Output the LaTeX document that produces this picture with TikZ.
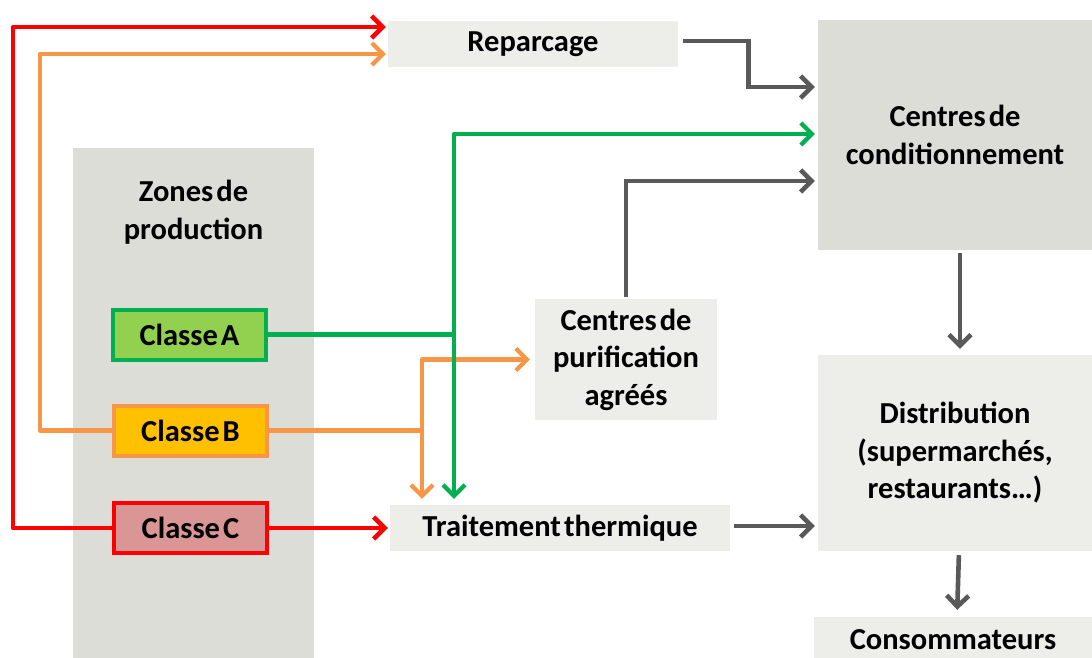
\documentclass[tikz,border=0pt]{standalone}
\usepackage{fontspec}
\setmainfont{Carlito}[WordSpace=0.45]
\usetikzlibrary{arrows.meta}
\definecolor{boxdark}{RGB}{221,221,215}
\definecolor{boxlight}{RGB}{237,237,233}
\definecolor{lgreen}{RGB}{0,176,80}
\definecolor{fgreen}{RGB}{146,208,80}
\definecolor{lorange}{RGB}{247,150,70}
\definecolor{forange}{RGB}{255,192,0}
\definecolor{lred}{RGB}{255,0,0}
\definecolor{fred}{RGB}{217,150,148}
\definecolor{lgray}{RGB}{89,89,89}
\begin{document}
\begin{tikzpicture}[x=1pt,y=-1pt,
  txt/.style={font=\fontsize{30.5}{37.5}\selectfont\bfseries, align=center, text=black},
  darkbox/.style={txt, fill=boxdark, inner sep=0pt},
  lightbox/.style={txt, fill=boxlight, inner sep=0pt},
  classbox/.style={txt, line width=4pt, inner sep=0pt, minimum width=153pt, minimum height=50pt},
  tip/.style={-{Straight Barb[length=11pt,width=22pt]}},
  redline/.style={draw=lred, line width=4.6pt},
  orangeline/.style={draw=lorange, line width=4.2pt},
  greenline/.style={draw=lgreen, line width=4.2pt},
  grayline/.style={draw=lgray, line width=4.6pt}
]
\useasboundingbox (0,0) rectangle (1092,658);
\fill[white] (0,0) rectangle (1092,658);

% boxes
\node[darkbox, minimum width=241pt, minimum height=510pt] (zones) at (193.5,403) {};
\node[txt] (zonestxt) at (193.5,212) {Zones de\\production};
\node[classbox, draw=lgreen, fill=fgreen] (classeA) at (189.5,334.5) {Classe A};
\node[classbox, draw=lorange, fill=forange] (classeB) at (190.5,430.5) {Classe B};
\node[classbox, draw=lred, fill=fred] (classeC) at (190.5,528) {Classe C};
\node[lightbox, minimum width=290pt, minimum height=46pt] (reparcage) at (533,44) {Reparcage};
\node[darkbox, minimum width=274pt, minimum height=230pt] (cond) at (955,135) {Centres de\\conditionnement};
\node[lightbox, minimum width=182pt, minimum height=121pt] (purif) at (626,359.5) {Centres de\\purification\\agréés};
\node[lightbox, minimum width=340pt, minimum height=46pt] (trait) at (560,528) {Traitement thermique};
\node[lightbox, minimum width=274pt, minimum height=196pt] (distrib) at (955,453) {Distribution\\(supermarchés,\\restaurants…)};
\node[lightbox, minimum width=278pt, minimum height=46pt] (conso) at (953,640) {Consommateurs};

% junction coordinates
\coordinate (ob) at (422,430.5);
\coordinate (gj) at (454,334.5);

% red connectors
\draw[redline, tip, line join=round, shorten >=2pt] (classeC.west) -- ++(-99,0) |- ([yshift=17pt]reparcage.west);
\draw[redline, tip, shorten >=2pt] (classeC.east) -- (trait.west);

% orange connectors
\draw[orangeline, tip, line join=round, shorten >=2pt] (classeB.west) -- ++(-72,0) |- ([yshift=-10pt]reparcage.west);
\draw[orangeline] (classeB.east) -- (ob);
\draw[orangeline, tip, line join=round, shorten >=5pt] (ob) |- (purif.west);
\draw[orangeline, tip, shorten >=6pt] (ob) -- (ob |- trait.north);

% green connectors
\draw[greenline] (classeA.east) -- (gj);
\draw[greenline, tip, line join=round, shorten >=3pt] (gj) |- ([yshift=1pt]cond.west);
\draw[greenline, tip, shorten >=6pt] (gj) -- (gj |- trait.north);

% gray connectors
\draw[grayline, tip, shorten >=3pt] ([xshift=5pt,yshift=3pt]reparcage.east) -- ++(65,0) |- ([yshift=48pt]cond.west);
\draw[grayline, tip, shorten >=3pt, shorten <=2pt] (purif.north) |- ([yshift=-46pt]cond.west);
\draw[grayline, tip, shorten >=6pt, shorten <=3pt] ([xshift=5pt]cond.south) -- ([xshift=5pt]distrib.north);
\draw[grayline, tip, shorten >=3pt, shorten <=4pt] ([yshift=2pt]trait.east) -- ([yshift=2pt]trait.east -| distrib.west);
\draw[grayline, tip, shorten >=7pt, shorten <=4pt] ([xshift=4pt]distrib.south) -- ([xshift=4pt]conso.north);
\end{tikzpicture}
\end{document}
